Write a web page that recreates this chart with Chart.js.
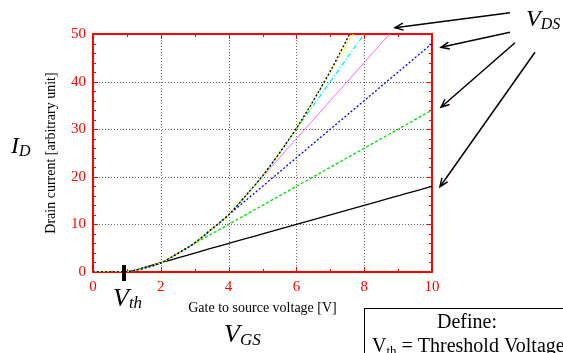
<!DOCTYPE html>
<html><head><meta charset="utf-8">
<script src="https://cdn.jsdelivr.net/npm/chart.js@4.4.0/dist/chart.umd.min.js"></script>
<style>html,body{margin:0;padding:0;background:#fff;overflow:hidden}#wrap{width:563px;height:353px;position:relative}</style>
</head><body><div id="wrap"><canvas id="c" width="563" height="353"></canvas></div>
<script>
// Gate-source voltage sample points [V]
const vgs = [0, 0.9, 1.2, 1.5, 2, 2.5, 3, 3.5, 4, 4.5, 5, 5.5, 6, 6.5, 7, 7.5, 8, 8.5, 9, 9.5, 10];
// Drain current curves (arbitrary unit), one per V_DS
const idVds1 = [0, 0, 0.3, 0.9, 1.95, 2.95, 3.95, 5, 6, 7, 8, 9, 10, 11, 12, 13, 14, 15, 16, 17, 18];
const idVds2 = [0, 0, 0.3, 0.8, 1.9, 3.9, 6, 8, 10, 12, 14, 16, 18, 20, 22, 24, 26, 28, 30, 32, 34];
const idVds3 = [0, 0, 0.3, 0.8, 1.9, 3.9, 6.1, 9, 12, 15, 18, 21, 24, 27, 30, 33, 36, 39, 42, 45, 48];
const idVds4 = [0, 0, 0.3, 0.8, 1.9, 3.9, 6.1, 9, 12, 16, 20, 24, 28, 32, 36, 40, 44, 48, 52, null, null];
const idVds5 = [0, 0, 0.3, 0.8, 1.9, 3.9, 6.1, 9, 12, 16, 20.2, 25, 30, 35, 40, 45, 50, 55, null, null, null];
const idVds6 = [0, 0, 0.3, 0.8, 1.9, 3.9, 6.1, 9, 12, 16, 20.2, 25, 30.2, 36, 42, 48, 54, null, null, null, null];
const idVds7 = [0, 0, 0.3, 0.8, 1.9, 3.9, 6.1, 9, 12, 16, 20.2, 25, 30.2, 36, 42.2, 49, 56, null, null, null, null];
const xTickValues = [0, 2, 4, 6, 8, 10];
const yTickValues = [0, 10, 20, 30, 40, 50];
const vthMark = 0.9;

const SERIF = '"Liberation Serif", "Times New Roman", serif';
function pts(arr){ return vgs.map((x,i)=>({x:x,y:arr[i]})); }
function ds(arr, color, width, dash, order){
  return {data: pts(arr), borderColor: color, borderWidth: width, borderDash: dash,
    pointRadius: 0, fill: false, cubicInterpolationMode: 'monotone', spanGaps: false, order: order};
}

function arrow(ctx, x1, y1, x2, y2){
  ctx.beginPath(); ctx.moveTo(x1,y1); ctx.lineTo(x2,y2); ctx.stroke();
  const a = Math.atan2(y2-y1, x2-x1), L = 9, h = 0.4;
  ctx.beginPath();
  ctx.moveTo(x2 - L*Math.cos(a-h), y2 - L*Math.sin(a-h));
  ctx.lineTo(x2, y2);
  ctx.lineTo(x2 - L*Math.cos(a+h), y2 - L*Math.sin(a+h));
  ctx.stroke();
}
function subText(ctx, main, sub, x, y, size, subSize, dy, italic){
  const st = italic ? 'italic ' : '';
  ctx.font = st + size + 'px ' + SERIF;
  ctx.textAlign = 'left'; ctx.textBaseline = 'alphabetic';
  ctx.fillText(main, x, y);
  const w = ctx.measureText(main).width;
  ctx.font = st + subSize + 'px ' + SERIF;
  ctx.fillText(sub, x + w, y + dy);
  return x + w + ctx.measureText(sub).width;
}

const decor = {
  id: 'decor',
  beforeDatasetsDraw(chart){
    const ctx = chart.ctx, a = chart.chartArea, xs = chart.scales.x, ys = chart.scales.y;
    ctx.save();
    ctx.strokeStyle = '#666'; ctx.lineWidth = 1; ctx.setLineDash([1,2]);
    xTickValues.forEach(v=>{ if(v>xs.min && v<xs.max){ const p=Math.round(xs.getPixelForValue(v))+0.5;
      ctx.beginPath(); ctx.moveTo(p,a.top); ctx.lineTo(p,a.bottom); ctx.stroke(); }});
    yTickValues.forEach(v=>{ if(v>ys.min && v<ys.max){ const p=Math.round(ys.getPixelForValue(v))+0.5;
      ctx.beginPath(); ctx.moveTo(a.left,p); ctx.lineTo(a.right,p); ctx.stroke(); }});
    ctx.setLineDash([]);
    // red frame
    ctx.strokeStyle = '#ff0000'; ctx.lineWidth = 2;
    ctx.strokeRect(a.left, a.top, a.right-a.left, a.bottom-a.top);
    // ticks
    ctx.lineWidth = 1;
    for(let v=xs.min; v<=xs.max; v+=1){
      const p = Math.round(xs.getPixelForValue(v))+0.5, L = (v%2===0)?5:3;
      ctx.beginPath(); ctx.moveTo(p,a.bottom); ctx.lineTo(p,a.bottom-L);
      ctx.moveTo(p,a.top); ctx.lineTo(p,a.top+L); ctx.stroke();
    }
    for(let v=ys.min; v<=ys.max; v+=2){
      const p = Math.round(ys.getPixelForValue(v))+0.5, L = (v%10===0)?5:3;
      ctx.beginPath(); ctx.moveTo(a.left,p); ctx.lineTo(a.left+L,p);
      ctx.moveTo(a.right,p); ctx.lineTo(a.right-L,p); ctx.stroke();
    }
    ctx.restore();
  },
  afterDatasetsDraw(chart){
    const ctx = chart.ctx, a = chart.chartArea, xs = chart.scales.x, ys = chart.scales.y;
    ctx.save();
    // threshold marker
    ctx.fillStyle = '#000';
    const vx = xs.getPixelForValue(vthMark);
    ctx.fillRect(Math.round(vx)-2, a.bottom-7, 4, 16);
    // axis titles
    ctx.fillStyle = '#000';
    ctx.font = '14px ' + SERIF; ctx.textAlign = 'center'; ctx.textBaseline = 'middle';
    ctx.fillText('Gate to source voltage [V]', (a.left+a.right)/2, 308);
    ctx.save(); ctx.translate(51, (a.top+a.bottom)/2); ctx.rotate(-Math.PI/2);
    ctx.font = '14px ' + SERIF; ctx.fillText('Drain current [arbitrary unit]', 0, 0); ctx.restore();
    // big symbols
    subText(ctx, 'I', 'D', 11, 153, 24, 16, 3, true);
    subText(ctx, 'V', 'th', 113, 306, 26, 17, 2, true);
    subText(ctx, 'V', 'GS', 224, 342, 26, 17, 3, true);
    subText(ctx, 'V', 'DS', 526, 26, 24, 16, 3, true);
    // arrows
    ctx.strokeStyle = '#000'; ctx.lineWidth = 1.5;
    arrow(ctx, 510, 12.7, 395, 27.7);
    arrow(ctx, 510, 32.3, 441, 47.3);
    arrow(ctx, 515, 42.7, 441, 107.3);
    arrow(ctx, 535, 52.3, 440, 186.7);
    // define box
    ctx.lineWidth = 1;
    ctx.strokeRect(364.5, 308.5, 300, 100);
    ctx.font = '20px ' + SERIF; ctx.textAlign = 'center'; ctx.textBaseline = 'alphabetic';
    ctx.fillText('Define:', 467, 328);
    const ex = subText(ctx, 'V', 'th', 372, 351.5, 20, 13, 3, false);
    ctx.font = '20px ' + SERIF; ctx.textAlign = 'left';
    ctx.fillText(' = Threshold Voltage', ex, 351.5);
    ctx.restore();
  }
};

new Chart(document.getElementById('c'), {
  type: 'line',
  data: { datasets: [
    ds(idVds7, '#000000', 1.3, [2,2], 1),
    ds(idVds6, '#eeee00', 1.3, [3,2], 2),
    ds(idVds5, '#00eeee', 1.3, [5,2,1,2], 3),
    ds(idVds4, '#ff66ff', 1, [], 4),
    ds(idVds3, '#0000ff', 1.3, [2,2], 5),
    ds(idVds2, '#00dd00', 1.3, [3,2], 6),
    ds(idVds1, '#000000', 1.3, [], 7)
  ]},
  options: {
    responsive: false, animation: false, devicePixelRatio: 1,
    layout: { padding: { left: 0, top: 34, right: 131, bottom: 0 } },
    plugins: { legend: { display: false }, tooltip: { enabled: false } },
    scales: {
      x: { type: 'linear', min: 0, max: 10,
        afterFit(s){ s.height = 81; },
        afterBuildTicks(s){ s.ticks = xTickValues.map(v=>({value:v})); },
        ticks: { color: '#ff0000', padding: 6, font: { family: SERIF, size: 15 } },
        grid: { display: false, drawTicks: false, tickLength: 0 }, border: { display: false } },
      y: { type: 'linear', min: 0, max: 50,
        afterFit(s){ s.width = 93; },
        afterBuildTicks(s){ s.ticks = yTickValues.map(v=>({value:v})); },
        ticks: { color: '#ff0000', padding: 7, font: { family: SERIF, size: 15 } },
        grid: { display: false, drawTicks: false, tickLength: 0 }, border: { display: false } }
    }
  },
  plugins: [decor]
});
</script></body></html>
